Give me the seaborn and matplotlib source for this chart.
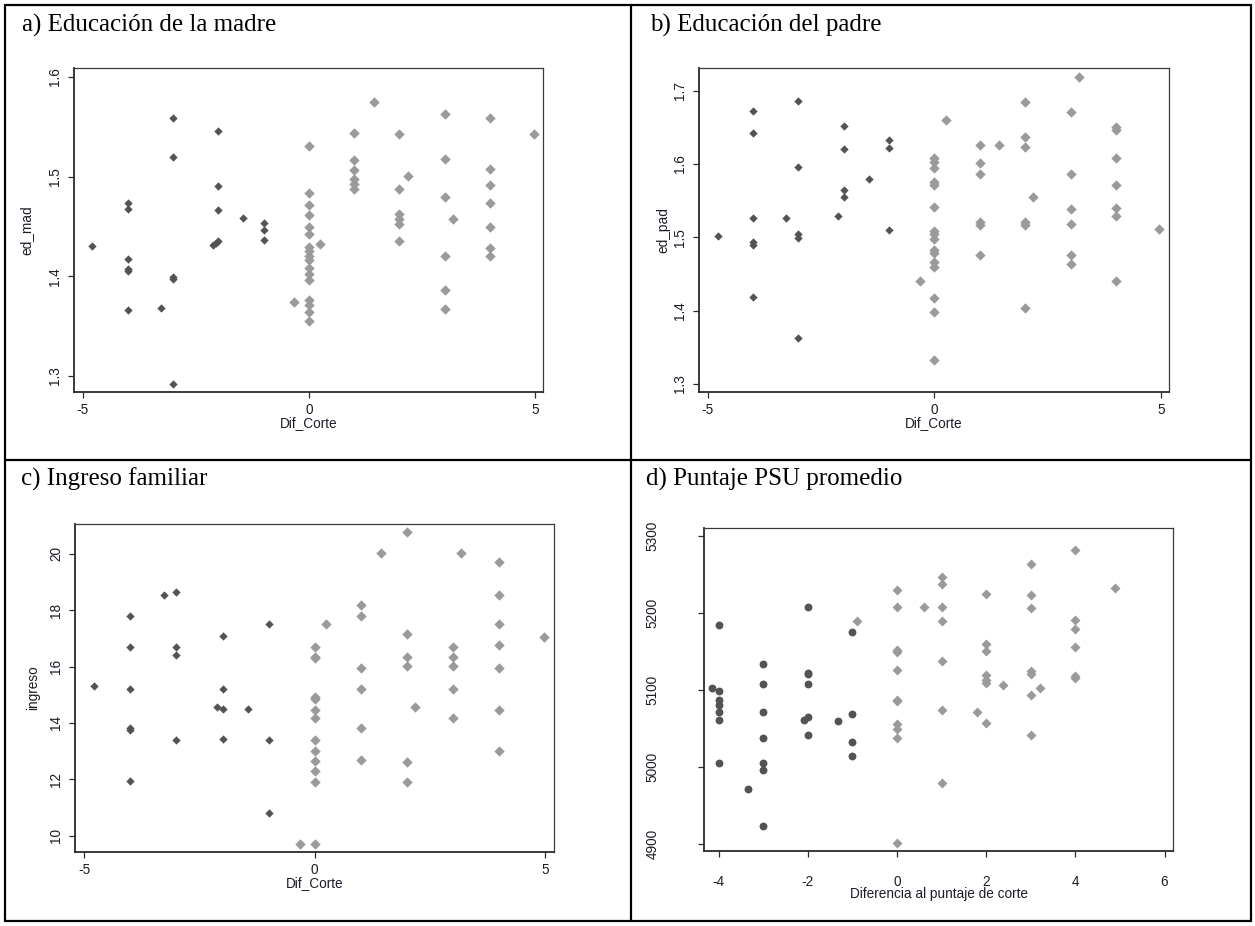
import matplotlib
matplotlib.use("Agg")
import matplotlib.pyplot as plt
from matplotlib.lines import Line2D
import seaborn as sns
import pandas as pd

# ---------------- data ----------------
# a) Educación de la madre
mad_below_x = [-4.79, -4, -4, -4, -4, -4, -4, -3.27, -3, -3, -3, -3, -3,
               -2.13, -2.05, -2, -2, -2, -2, -1.45, -1, -1, -1]
mad_below_y = [1.430, 1.474, 1.468, 1.417, 1.407, 1.405, 1.366, 1.368, 1.559, 1.520, 1.399, 1.397, 1.292,
               1.431, 1.433, 1.435, 1.546, 1.491, 1.467, 1.459, 1.454, 1.447, 1.436]
mad_above_x = [-0.33] + [0] * 17 + [0.25] + [1] * 6 + [1.43] + [2] * 6 + [2.18] + [3] * 6 + [3.18] + [4] * 7 + [4.97]
mad_above_y = [1.374,
               1.531, 1.484, 1.472, 1.462, 1.450, 1.442, 1.429, 1.425, 1.420, 1.416, 1.408, 1.402, 1.396,
               1.376, 1.371, 1.364, 1.355,
               1.432,
               1.544, 1.517, 1.507, 1.498, 1.493, 1.488,
               1.575,
               1.543, 1.488, 1.463, 1.458, 1.453, 1.435,
               1.501,
               1.563, 1.518, 1.480, 1.420, 1.386, 1.367,
               1.458,
               1.559, 1.508, 1.492, 1.474, 1.450, 1.428, 1.420,
               1.543]

# b) Educación del padre
pad_below_x = [-4.78, -4, -4, -4, -4, -4, -4, -3.28, -3, -3, -3, -3, -3,
               -2, -2, -2, -2, -2.12, -1.45, -1, -1, -1]
pad_below_y = [1.502, 1.672, 1.643, 1.526, 1.493, 1.489, 1.419, 1.527, 1.686, 1.596, 1.505, 1.499, 1.362,
               1.652, 1.621, 1.565, 1.555, 1.529, 1.580, 1.633, 1.622, 1.510]
pad_above_x = [-0.32] + [0] * 16 + [0.26] + [1] * 6 + [1.42] + [2] * 6 + [2.18] + [3] * 6 + [3.19] + [4] * 7 + [4.96]
pad_above_y = [1.441,
               1.608, 1.603, 1.595, 1.576, 1.572, 1.542, 1.508, 1.504, 1.498, 1.483, 1.479, 1.467, 1.460,
               1.417, 1.398, 1.332,
               1.660,
               1.626, 1.601, 1.586, 1.521, 1.517, 1.476,
               1.626,
               1.684, 1.637, 1.623, 1.521, 1.517, 1.404,
               1.555,
               1.671, 1.587, 1.539, 1.518, 1.476, 1.463,
               1.719,
               1.650, 1.646, 1.608, 1.571, 1.540, 1.529, 1.441,
               1.512]

# c) Ingreso familiar
ing_below_x = [-4.78, -4, -4, -4, -4, -4, -4, -3.28, -3, -3, -3, -3,
               -2, -2, -2, -2, -2.13, -1.45, -1, -1, -1]
ing_below_y = [15.30, 17.81, 16.70, 15.22, 13.82, 13.76, 11.94, 18.55, 18.64, 16.70, 16.40, 13.38,
               17.08, 15.22, 14.49, 13.43, 14.56, 14.49, 17.52, 13.38, 10.79]
ing_above_x = [-0.325] + [0] * 13 + [0.25] + [1] * 6 + [1.43] + [2] * 6 + [2.18] + [3] * 5 + [3.18] + [4] * 7 + [4.98]
ing_above_y = [9.70,
               16.69, 16.35, 16.30, 14.91, 14.84, 14.47, 14.17, 13.38, 13.02, 12.66, 12.28, 11.89, 9.70,
               17.50,
               18.19, 17.80, 15.95, 15.21, 13.82, 12.67,
               20.02,
               20.77, 17.14, 16.35, 16.02, 12.63, 11.89,
               14.56,
               16.70, 16.34, 16.02, 15.21, 14.19,
               20.02,
               19.72, 18.54, 17.50, 16.77, 15.95, 14.47, 13.01,
               17.06]

# d) Puntaje PSU promedio
psu_below_x = [-4, -4.15, -4, -4, -4, -4, -4, -4, -3, -3, -3, -3, -3, -3, -3, -3.34,
               -2, -2, -2, -2, -2, -2, -2.09, -1.32, -1, -1, -1, -1]
psu_below_y = [5184, 5103, 5099, 5087, 5080, 5071, 5061, 5005, 5134, 5107, 5071, 5038, 5005, 4996, 4923, 4972,
               5208, 5122, 5120, 5108, 5065, 5042, 5061, 5060, 5175, 5069, 5033, 5014]
psu_above_x = [-0.89] + [0] * 11 + [0.6] + [1] * 7 + [1.8] + [2] * 7 + [2.38] + [3] * 7 + [3.21] + [4] * 6 + [4.9]
psu_above_y = [5189,
               5229, 5208, 5152, 5149, 5126, 5087, 5085, 5056, 5049, 5038, 4901,
               5207,
               5247, 5237, 5207, 5190, 5137, 5074, 4979,
               5071,
               5225, 5160, 5151, 5119, 5113, 5109, 5057,
               5106,
               5263, 5223, 5206, 5124, 5121, 5094, 5041,
               5102,
               5282, 5191, 5179, 5155, 5118, 5115,
               5232]

titles = ["a) Educación de la madre", "b) Educación del padre",
          "c) Ingreso familiar", "d) Puntaje PSU promedio"]
ylabels = ["ed_mad", "ed_pad", "ingreso", ""]
xlabels = ["Dif_Corte", "Dif_Corte", "Dif_Corte", "Diferencia al puntaje de corte"]
yticks_list = [[1.3, 1.4, 1.5, 1.6], [1.3, 1.4, 1.5, 1.6, 1.7],
               [10, 12, 14, 16, 18, 20], [4900, 5000, 5100, 5200, 5300]]
xticks_list = [[-5, 0, 5], [-5, 0, 5], [-5, 0, 5], [-4, -2, 0, 2, 4, 6]]

# ---------------- style ----------------
sns.set_style("white")
plt.rcParams["font.family"] = ["Liberation Sans", "DejaVu Sans"]

DARK = "#535353"
LIGHT = "#9a9a9a"
TXT = "#1c1c28"

fig = plt.figure(figsize=(12.55, 9.26), dpi=100)
W, H = 1255.0, 926.0


def px_axes(left, top, right, bottom):
    return fig.add_axes([left / W, 1 - bottom / H, (right - left) / W, (bottom - top) / H])


axes_px = [(74, 68, 543, 392), (699, 68, 1169, 392), (75, 524, 554, 852), (704, 528, 1173, 851)]
limits = [((-5.19, 5.17), (1.284, 1.609)),
          ((-5.19, 5.17), (1.289, 1.731)),
          ((-5.20, 5.19), (9.42, 21.06)),
          ((-4.33, 6.19), (4891, 5310))]
panels = [(mad_below_x, mad_below_y, mad_above_x, mad_above_y),
          (pad_below_x, pad_below_y, pad_above_x, pad_above_y),
          (ing_below_x, ing_below_y, ing_above_x, ing_above_y),
          (psu_below_x, psu_below_y, psu_above_x, psu_above_y)]

for i, (bx, by, ax_x, ax_y) in enumerate(panels):
    ax = px_axes(*axes_px[i])
    below = pd.DataFrame({"x": bx, "y": by})
    above = pd.DataFrame({"x": ax_x, "y": ax_y})
    if i < 3:
        sns.scatterplot(data=below, x="x", y="y", ax=ax, marker="D", s=18,
                        color=DARK, linewidth=0, zorder=3)
        sns.scatterplot(data=above, x="x", y="y", ax=ax, marker="D", s=28,
                        color=LIGHT, linewidth=0, zorder=3)
    else:
        sns.scatterplot(data=below, x="x", y="y", ax=ax, marker="o", s=32,
                        color=DARK, linewidth=0, zorder=3)
        sns.scatterplot(data=above, x="x", y="y", ax=ax, marker="D", s=26,
                        color=LIGHT, linewidth=0, zorder=3)

    ax.set_xlim(*limits[i][0])
    ax.set_ylim(*limits[i][1])
    ax.set_xticks(xticks_list[i])
    ax.set_yticks(yticks_list[i])
    ax.set_xticklabels([f"{t:g}" for t in xticks_list[i]])
    ax.set_yticklabels([f"{t:g}" for t in yticks_list[i]], rotation=90, va="center")

    for side in ("left", "bottom"):
        ax.spines[side].set_linewidth(1.3)
        ax.spines[side].set_color("#2a2a2a")
    for side in ("top", "right"):
        ax.spines[side].set_linewidth(0.9)
        ax.spines[side].set_color("#3a3a3a")

    if i < 3:
        ypad, xpad = 4.3, 4.0
    else:
        ypad, xpad = 28, 13
    ax.tick_params(axis="y", direction="out", length=4, width=0.9, pad=ypad,
                   labelsize=9.8, colors="#2a2a2a", labelcolor=TXT, left=True)
    ax.tick_params(axis="x", direction="out", length=4, width=0.9, pad=xpad,
                   labelsize=9.8, colors="#2a2a2a", labelcolor=TXT, bottom=True)

    ax.set_xlabel(xlabels[i], fontsize=9.8, color=TXT, labelpad=-1)
    ylp = {0: 11, 1: 2, 2: 7}.get(i, 0)
    ax.set_ylabel(ylabels[i], fontsize=9.8, color=TXT, labelpad=ylp)

# ---------------- table frame and panel titles ----------------
frame_lw = 1.6
for (x0, y0, x1, y1) in [(5, 5, 1251, 5), (5, 921, 1251, 921), (5, 5, 5, 921),
                         (1251, 5, 1251, 921), (631, 5, 631, 921), (5, 460, 1251, 460)]:
    fig.add_artist(Line2D([x0 / W, x1 / W], [1 - y0 / H, 1 - y1 / H],
                          color="black", linewidth=frame_lw, transform=fig.transFigure))

title_pos = [(22, 32), (650, 32), (21, 486), (646, 486)]
for t, (tx, ty) in zip(titles, title_pos):
    fig.text(tx / W, 1 - ty / H, t, fontsize=18, family=["Liberation Serif", "DejaVu Serif"],
             color="black", ha="left", va="baseline")

fig.savefig("out.png", dpi=100, facecolor="white")
